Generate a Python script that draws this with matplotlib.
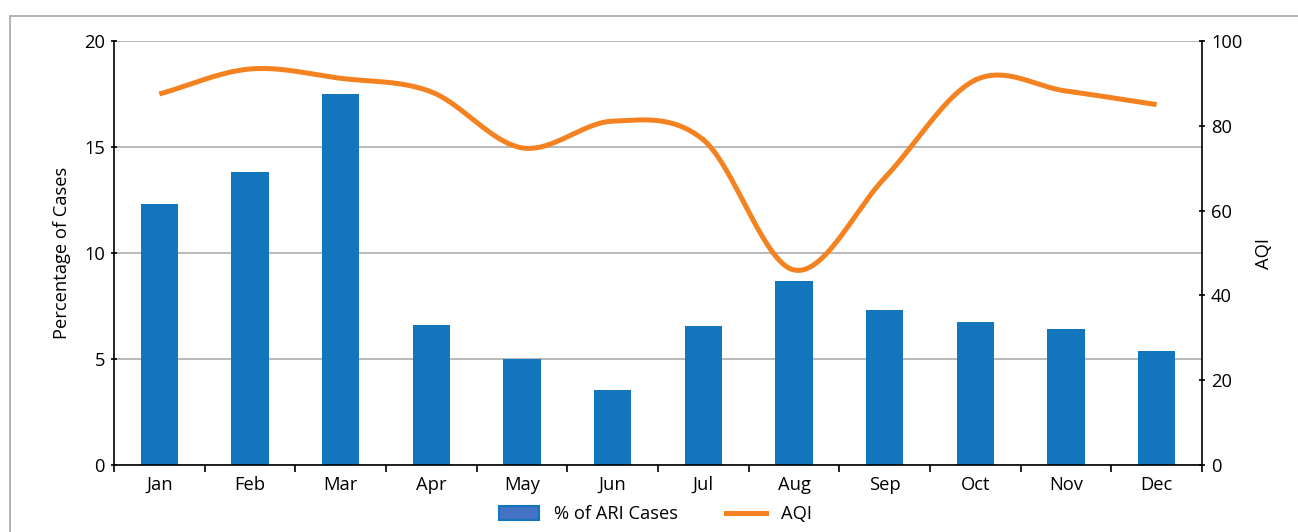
import matplotlib.pyplot as plt
from matplotlib.patches import Rectangle
from matplotlib.lines import Line2D
import numpy as np

plt.rcParams['font.family'] = ['Open Sans', 'DejaVu Sans']

months = ["Jan", "Feb", "Mar", "Apr", "May", "Jun", "Jul", "Aug", "Sep", "Oct", "Nov", "Dec"]
ari_cases = [12.3, 13.8, 17.5, 6.6, 5.0, 3.55, 6.55, 8.7, 7.3, 6.75, 6.4, 5.4]
aqi = [87.5, 93.4, 91.2, 88.0, 74.8, 81.1, 76.7, 46.0, 67.7, 90.8, 88.2, 85.0]

bar_color = "#1375BB"
line_color = "#F58220"
fs = 13.2


def catmull_rom(x, y, n=40):
    # smooth line through the points, like a spreadsheet "smoothed line"
    x = np.asarray(x, float)
    y = np.asarray(y, float)
    px = np.concatenate([[2 * x[0] - x[1]], x, [2 * x[-1] - x[-2]]])
    py = np.concatenate([[2 * y[0] - y[1]], y, [2 * y[-1] - y[-2]]])
    xs, ys = [], []
    t = np.linspace(0, 1, n)
    for i in range(1, len(px) - 2):
        for p, out in ((px, xs), (py, ys)):
            p0, p1, p2, p3 = p[i - 1], p[i], p[i + 1], p[i + 2]
            out.append(0.5 * (2 * p1 + (-p0 + p2) * t
                              + (2 * p0 - 5 * p1 + 4 * p2 - p3) * t ** 2
                              + (-p0 + 3 * p1 - 3 * p2 + p3) * t ** 3))
    return np.concatenate(xs), np.concatenate(ys)


fig = plt.figure(figsize=(12.98, 5.32), dpi=100)
fig.patches.append(Rectangle((10 / 1298, -0.1), 1.2, 1.1 - 16 / 532, transform=fig.transFigure,
                             fill=False, edgecolor="#A6A6A6", linewidth=1.2, zorder=0))

ax = fig.add_axes([114 / 1298, 1 - 465 / 532, (1202 - 114) / 1298, (465 - 41) / 532])
x = np.arange(len(months))
ax.bar(x, ari_cases, width=0.41, color=bar_color, zorder=2)
ax.set_xlim(-0.5, len(months) - 0.5)
ax.set_ylim(0, 20)
ax.set_yticks([0, 5, 10, 15, 20])
ax.yaxis.grid(True, color="#A6A6A6", linewidth=1.1, zorder=0)
ax.set_axisbelow(True)
ax.set_xticks(x)
ax.set_xticklabels(months)
ax.set_xticks(np.arange(-0.5, len(months)), minor=True)
ax.tick_params(axis="x", which="major", length=0, pad=8, labelsize=fs)
ax.tick_params(axis="x", which="minor", length=5, width=1.2, direction="out")
ax.tick_params(axis="y", length=5, width=1.2, direction="inout", labelsize=fs, pad=4)
ax.set_ylabel("Percentage of Cases", fontsize=fs, labelpad=9)
for s in ["top", "right"]:
    ax.spines[s].set_visible(False)
ax.spines["left"].set_linewidth(1.2)
ax.spines["bottom"].set_linewidth(1.2)

ax2 = ax.twinx()
sx, sy = catmull_rom(x, aqi)
ax2.plot(sx, sy, color=line_color, linewidth=3.6, solid_capstyle="butt", zorder=3)
ax2.set_ylim(0, 100)
ax2.set_yticks([0, 20, 40, 60, 80, 100])
ax2.tick_params(axis="y", length=5, width=1.2, direction="inout", labelsize=fs, pad=4)
ax2.set_ylabel("AQI", fontsize=fs, labelpad=9)
for s in ["top", "left", "bottom"]:
    ax2.spines[s].set_visible(False)
ax2.spines["right"].set_linewidth(1.2)

handles = [Rectangle((0, 0), 1, 1, facecolor="#4472C4", edgecolor=bar_color, linewidth=1.5),
           Line2D([0], [0], color=line_color, linewidth=3.6)]
fig.legend(handles, ["% of ARI Cases", "AQI"], loc="center", bbox_to_anchor=(0.505, 0.033),
           ncol=2, frameon=False, fontsize=fs, handlelength=2.2, handleheight=0.8,
           columnspacing=2.6, handletextpad=0.8)

fig.savefig("out.png", dpi=100)
plt.close()
